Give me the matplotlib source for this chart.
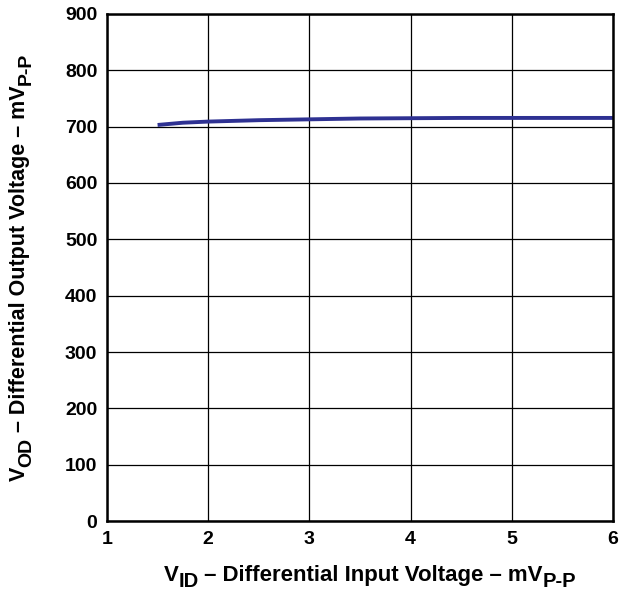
import matplotlib
matplotlib.use("Agg")
import numpy as np
import matplotlib.pyplot as plt
from matplotlib.transforms import IdentityTransform

# VOD vs VID curve
vid = [1.5, 1.75, 2.0, 2.5, 3.0, 3.5, 4.0, 4.5, 5.0, 5.5, 6.0]
vod = [703, 707, 709, 711.5, 713, 714.5, 715, 715.5, 715.5, 715.5, 715.5]

x_ticks = [1, 2, 3, 4, 5, 6]
y_ticks = [0, 100, 200, 300, 400, 500, 600, 700, 800, 900]

# axis titles as (text, is_subscript) pieces
x_title = [("V", False), ("ID", True), (" – Differential Input Voltage – mV", False), ("P-P", True)]
y_title = [("V", False), ("OD", True), (" – Differential Output Voltage – mV", False), ("P-P", True)]

plt.rcParams["font.family"] = ["Liberation Sans", "DejaVu Sans"]
plt.rcParams["font.weight"] = "bold"


def rich_label(fig, pieces, cx, cy, rotation=0, size=15.5, sub_size=14, sub_drop=6):
    # lay text pieces along a baseline, subscripts dropped a few pixels
    r = fig.canvas.get_renderer()
    texts, widths = [], []
    for s, sub in pieces:
        t = fig.text(0, 0, s, fontsize=sub_size if sub else size, fontweight="bold",
                     ha="left", va="baseline", transform=IdentityTransform(),
                     rotation=0, rotation_mode="anchor")
        widths.append(t.get_window_extent(r).width)
        t.set_rotation(rotation)
        texts.append(t)
    th = np.deg2rad(rotation)
    along = np.array([np.cos(th), np.sin(th)])
    down = np.array([np.sin(th), -np.cos(th)])
    p = np.array([cx, cy]) - along * sum(widths) / 2
    for (s, sub), t, w in zip(pieces, texts, widths):
        q = p + (down * sub_drop if sub else 0)
        t.set_position((q[0], q[1]))
        p = p + along * w


fig = plt.figure(figsize=(6.21, 5.90), dpi=100)
ax = fig.add_axes([0.1723, 0.1169, 0.8147, 0.8594])

ax.plot(vid, vod, color="#2e3192", lw=2.8, solid_capstyle="butt")

ax.set_xlim(1, 6)
ax.set_ylim(0, 900)
ax.set_xticks(x_ticks)
ax.set_yticks(y_ticks)
ax.tick_params(length=0, labelsize=14)
ax.tick_params(axis="x", pad=7)
ax.tick_params(axis="y", pad=7)
for lab in ax.get_xticklabels() + ax.get_yticklabels():
    lab.set_fontweight("bold")
ax.grid(True, color="black", lw=0.9)
for s in ax.spines.values():
    s.set_linewidth(1.8)

# positions in pixels (origin bottom-left)
rich_label(fig, x_title, 370, 590 - 581, size=16, sub_size=14.5)
rich_label(fig, y_title, 25, 590 - 267, rotation=90)

fig.savefig("out.png", dpi=100)
